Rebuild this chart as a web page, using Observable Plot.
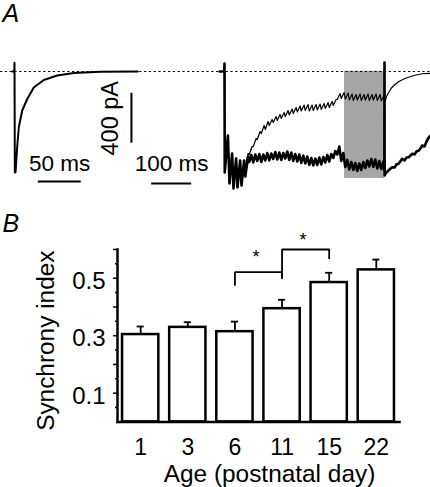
<!DOCTYPE html>
<html>
<head>
<meta charset="utf-8">
<script src="https://cdn.jsdelivr.net/npm/d3@7"></script>
<script src="https://cdn.jsdelivr.net/npm/@observablehq/plot@0.6"></script>
<style>
  html, body { margin: 0; padding: 0; background: #fff; }
  #fig { position: relative; width: 430px; height: 487px; background: #fff; overflow: hidden; }
  #fig svg { position: absolute; left: 0; }
</style>
</head>
<body>
<div id="fig"></div>
<script>
// ---------------- DATA ----------------
// Panel A, left: single EPSC, [time ms, current pA]
const leftTrace = [[-2.5,0],[-0.3,0],[0,70],[0.4,-808],[1.2,-806],[3.1,-606],[5,-446],[9,-312],[14.8,-220],[22.4,-128],[34.1,-68],[49.7,-32],[69,-12],[100,-2],[143.4,0]];

// Panel A, right: responses to a 100 Hz, 400 ms train, [time ms, current pA]
const trainStart = [[-12,0],[-0.5,0],[0,64],[0.6,-808],[8.5,-512],[12.5,-896],[19,-656],[22.5,-936],[29,-696],[32.5,-928],[39,-712],[42.5,-912],[49,-712]];
const thinTrace = [
  [52,-760],[59,-656],[62,-664],[69,-600],[72,-600],[79,-536],[82,-544],[89,-480],
  [92,-496],[99,-432],[102,-464],[109,-400],[112,-432],[119,-384],[122,-408],[129,-360],
  [132,-392],[139,-344],[142,-376],[149,-328],[152,-360],[159,-312],[162,-348],[169,-300],
  [172,-336],[179,-288],[182,-324],[189,-276],[192,-316],[199,-268],[202,-312],[209,-264],
  [212,-316],[219,-268],[222,-312],[229,-264],[232,-308],[239,-260],[242,-304],[249,-256],
  [252,-296],[259,-248],[262,-288],[269,-240],[272,-272],[279,-224],[282,-224],[289,-176],
  [292,-216],[299,-168],[302,-220],[309,-172],[312,-228],[319,-180],[322,-232],[329,-184],
  [332,-228],[339,-180],[342,-232],[349,-184],[352,-228],[359,-180],[362,-232],[369,-184],
  [372,-228],[379,-180],[382,-232],[389,-184],[392,-236],[399,-190],
  [400,-246],[401.25,-240],[405,-200],[410.75,-166],[416.25,-136],[423.25,-112],[435.75,-80],
  [452.5,-54],[473.25,-32],[494.25,-18],[515,-14]
];
const thickTrace = [
  [52,-840],[59,-680],[62,-724],[67,-668],[72,-728],[77,-664],[82,-716],[87,-660],
  [92,-724],[97,-664],[102,-712],[107,-652],[112,-712],[117,-656],[122,-700],[127,-644],
  [132,-704],[137,-648],[142,-708],[147,-652],[152,-696],[157,-640],[162,-708],[167,-648],
  [172,-716],[177,-660],[182,-720],[187,-664],[192,-732],[197,-672],[202,-736],[207,-680],
  [212,-748],[217,-692],[222,-752],[227,-696],[232,-748],[237,-688],[242,-744],[247,-684],
  [252,-728],[257,-668],[262,-720],[267,-660],[272,-692],[277,-636],[282,-664],[287,-600],
  [292,-716],[297,-652],[302,-764],[307,-708],[312,-784],[317,-724],[322,-788],[327,-732],
  [332,-796],[337,-736],[342,-788],[347,-724],[352,-772],[357,-712],[362,-760],[367,-700],
  [372,-764],[377,-704],[382,-776],[387,-716],[392,-780],[397,-720],
  [399.6,-792],[400,72],[400.4,-832],
  [402.5,-816],[407.5,-800],[412.5,-784],[419.25,-766],[425,-768],[430,-744],[435.75,-736],
  [444.25,-698],[450,-712],[455,-688],[460.75,-686],[469.25,-658],[475,-664],[480,-640],
  [485.75,-632],[490,-616],[494.25,-592],[500,-600],[505,-560],[510.75,-528],[515,-512]
];
const analysisWindow = [300, 400];          // ms, shaded
const scaleBarLeftMs = [50];
const scaleBarRightMs = [100];
const scaleBarPA = [400];

// Panel B
const ages = ["1", "3", "6", "11", "15", "22"];
const synchrony = [0.304, 0.329, 0.314, 0.394, 0.485, 0.529];
const sem = [0.028, 0.018, 0.035, 0.031, 0.034, 0.036];
const yTickLabels = [0.1, 0.3, 0.5];
const yMajorTicks = [0.1, 0.2, 0.3, 0.4, 0.5, 0.6];
const yMinorTicks = [0.05, 0.15, 0.25, 0.35, 0.45, 0.55];
const bracketFrom = ["6", "11"];
const bracketTo = ["11", "15"];
const bracketTop = [0.521, 0.600];
const bracketLeftEnd = [0.474, 0.498];
const bracketRightEnd = [0.498, 0.567];
const starY = [0.588, 0.648];

// ---------------- DRAW ----------------
const FONT = "'Liberation Sans', Arial, Helvetica, sans-serif";
const fig = document.getElementById("fig");
const yA = {domain: [-1032, 568], axis: null};
const baseStyle = {background: "transparent", overflow: "visible", fontFamily: FONT, color: "black"};

const toPts = (arr) => arr.map(([t, v]) => ({t, v}));

// Left trace plot (time scale 1)
const leftPlot = Plot.plot({
  width: 430, height: 200, margin: 0,
  x: {domain: [-16.28, 483.8], axis: null},
  y: yA,
  style: baseStyle,
  marks: [
    Plot.line(toPts(leftTrace), {x: "t", y: "v", stroke: "black", strokeWidth: 2}),
    // 50 ms bar
    Plot.ruleY(scaleBarLeftMs.map(d => ({y: -880, x1: 27.6, x2: 27.6 + d})), {y: "y", x1: "x1", x2: "x2", strokeWidth: 2}),
    Plot.text(scaleBarLeftMs, {x: d => 27.6 + d / 2, y: -797, text: d => `${d} ms`, lineAnchor: "bottom", fontSize: 22.5}),
    // 400 pA bar
    Plot.ruleX(scaleBarPA.map(d => ({x: 136, y1: -574, y2: -574 + d})), {x: "x", y1: "y1", y2: "y2", strokeWidth: 2}),
    Plot.text(scaleBarPA, {x: 120.4, y: d => -574 + d / 2, text: d => `${d} pA`, rotate: -90, lineAnchor: "bottom", textAnchor: "middle", fontSize: 23.5}),
    Plot.text(["A"], {frameAnchor: "top-left", dx: 2, dy: 21, lineAnchor: "bottom", textAnchor: "start", fontSize: 25, fontStyle: "italic"})
  ]
});
leftPlot.style.top = "0px";
fig.appendChild(leftPlot);

// Right trace plot (time scale 2)
const rightPlot = Plot.plot({
  width: 430, height: 200, margin: 0,
  x: {domain: [-560, 515], axis: null},
  y: yA,
  style: baseStyle,
  marks: [
    Plot.rect([analysisWindow], {x1: d => d[0], x2: d => d[1], y1: -856, y2: 2, fill: "#a6a6a6"}),
    Plot.line(toPts(trainStart.concat(thickTrace)), {x: "t", y: "v", stroke: "black", strokeWidth: 2.6}),
    Plot.line(toPts(trainStart.concat(thinTrace)), {x: "t", y: "v", stroke: "black", strokeWidth: 1.2}),
    Plot.ruleY([0], {stroke: "black", strokeWidth: 1.2, strokeDasharray: "2.2,2.6"}),
    // 100 ms bar
    Plot.ruleY(scaleBarRightMs.map(d => ({y: -896, x1: -182, x2: -182 + d})), {y: "y", x1: "x1", x2: "x2", strokeWidth: 2}),
    Plot.text(scaleBarRightMs, {x: d => -182 + d / 2, y: -797, text: d => `${d} ms`, lineAnchor: "bottom", fontSize: 22.5})
  ]
});
rightPlot.style.top = "0px";
fig.appendChild(rightPlot);

// Panel B bar chart
const bars = ages.map((age, i) => ({age, v: synchrony[i], e: synchrony[i] + sem[i]}));
const brackets = [];
bracketFrom.forEach((f, i) => {
  brackets.push({id: i, x: f, y: bracketLeftEnd[i]});
  brackets.push({id: i, x: f, y: bracketTop[i]});
  brackets.push({id: i, x: bracketTo[i], y: bracketTop[i]});
  brackets.push({id: i, x: bracketTo[i], y: bracketRightEnd[i]});
});
const stars = bracketFrom.map((f, i) => ({x: f, y: starY[i]}));

const barPlot = Plot.plot({
  width: 430, height: 267,
  marginTop: 29, marginBottom: 65.6, marginLeft: 117, marginRight: 31,
  x: {domain: ages, paddingInner: 0.23, paddingOuter: 0.107, round: false, label: null},
  y: {domain: [0, 0.6], label: null},
  style: baseStyle,
  marks: [
    Plot.barY(bars, {x: "age", y: "v", fill: "white", stroke: "black", strokeWidth: 2.5}),
    Plot.ruleX(bars, {x: "age", y1: "v", y2: "e", stroke: "black", strokeWidth: 1.8}),
    Plot.tickY(bars, {x: "age", y: "e", stroke: "black", strokeWidth: 1.8, insetLeft: 14.6, insetRight: 14.6}),
    Plot.line(brackets, {x: "x", y: "y", z: "id", stroke: "black", strokeWidth: 1.8, strokeLinecap: "butt", strokeLinejoin: "miter"}),
    Plot.text(stars, {x: "x", y: "y", text: () => "*", dx: 21, dy: 10, lineAnchor: "bottom", fontSize: 18}),
    Plot.axisY({ticks: yMajorTicks, tickSize: 4, tickFormat: () => "", strokeWidth: 1.5, label: null}),
    Plot.axisY({ticks: yMinorTicks, tickSize: 2, tickFormat: () => "", strokeWidth: 1.5, label: null}),
    Plot.axisY({ticks: yTickLabels, tickSize: 0, tickPadding: 12, tickFormat: d => d.toFixed(1), fontSize: 24, dy: 3, label: null}),
    Plot.axisX({tickSize: 0, tickPadding: 17, fontSize: 23, label: null}),
    Plot.frame({anchor: "left", strokeWidth: 2.5}),
    Plot.frame({anchor: "bottom", strokeWidth: 2.5}),
    Plot.text(["Synchrony index"], {frameAnchor: "left", dx: -64, dy: 5, rotate: -90, lineAnchor: "bottom", textAnchor: "middle", fontSize: 24.4}),
    Plot.text(["Age (postnatal day)"], {frameAnchor: "bottom", dx: 11, dy: 60, lineAnchor: "bottom", textAnchor: "middle", fontSize: 24.4}),
    Plot.text(["B"], {frameAnchor: "top-left", dx: -115, dy: -18, lineAnchor: "bottom", textAnchor: "start", fontSize: 25, fontStyle: "italic"})
  ]
});
barPlot.style.top = "220px";
fig.appendChild(barPlot);
</script>
</body>
</html>
